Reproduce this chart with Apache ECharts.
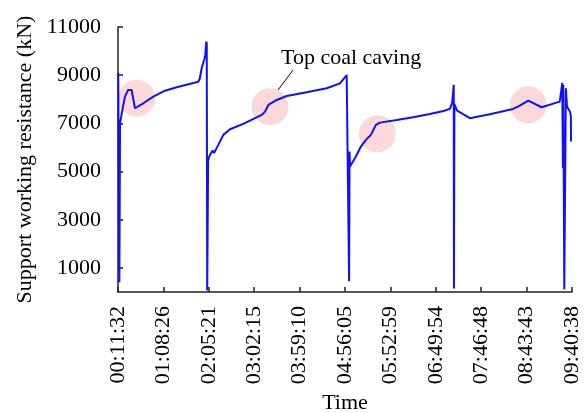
<!DOCTYPE html>
<html>
<head>
<meta charset="utf-8">
<script src="https://cdn.jsdelivr.net/npm/echarts@6/dist/echarts.min.js"></script>
<style>
html,body{margin:0;padding:0;background:#fff;}
#chart{width:584px;height:413px;}
</style>
</head>
<body>
<div id="chart"></div>
<script>
// Time tick labels (x value = index of tick label interval)
var timeLabels = ['00:11:32','01:08:26','02:05:21','03:02:15','03:59:10','04:56:05','05:52:59','06:49:54','07:46:48','08:43:43','09:40:38'];
var yTickValues = [1000, 3000, 5000, 7000, 9000, 11000];

// Support working resistance (kN) vs time position (in tick-interval units)
var timePos = [
  0.005, 0.03, 0.045, 0.10, 0.154, 0.22, 0.264, 0.30, 0.374, 0.557, 0.778, 1.035, 1.293, 1.769, 1.80, 1.844, 1.90, 1.92, 1.945, 1.955, 1.965,
  1.975, 1.985, 2.026, 2.086, 2.115, 2.152, 2.209, 2.319, 2.467, 2.760, 3.165, 3.238, 3.311, 3.496, 3.716, 4.156, 4.597, 4.890, 5.037, 5.073, 5.09,
  5.10, 5.11, 5.24, 5.35, 5.46, 5.57, 5.68, 5.77, 6.14, 6.50, 6.87, 7.17, 7.31, 7.36, 7.395, 7.40,
  7.41, 7.47, 7.75, 8.19, 8.70, 8.81, 9.037, 9.33, 9.73, 9.773, 9.786, 9.80, 9.808, 9.83, 9.865, 9.89, 9.956, 9.975, 9.978
];
var resistance = [
  9100, 400, 7000, 7600, 8108, 8380, 8414, 8385, 7627, 7834, 8108, 8356, 8497, 8729, 8850, 9300, 9650, 9800, 10400, 10300, 60,
  60, 5487, 5694, 5872, 5764, 5901, 6108, 6522, 6757, 6977, 7350, 7487, 7764, 7971, 8137, 8290, 8456, 8662, 9006, 8965, 447,
  5830, 5210, 5623, 6037, 6315, 6522, 6936, 7031, 7143, 7255, 7391, 7516, 7600, 7850, 8600, 145,
  7800, 7528, 7213, 7379, 7598, 7694, 7942, 7669, 7901, 7971, 8680, 5150, 8600, 100, 8455, 7700, 7487, 7280, 6244
];

// Highlighted events (top coal caving)
var cavingPos = [0.412, 3.348, 5.711, 9.037];
var cavingVal = [8042, 7694, 6563, 7764];

var lineData = timePos.map(function (t, i) { return [t, resistance[i]]; });
var circleData = cavingPos.map(function (t, i) { return [t, cavingVal[i]]; });

var FONT = "'Liberation Serif','Times New Roman',serif";
var chart = echarts.init(document.getElementById('chart'), null, {renderer: 'canvas'});
chart.setOption({
  animation: false,
  backgroundColor: '#fff',
  grid: {left: 118, right: 12, top: 27, bottom: 121, containLabel: false, outerBoundsMode: 'none'},
  xAxis: {
    type: 'value', min: 0, max: 10, interval: 1,
    name: 'Time', nameLocation: 'middle', nameGap: 99,
    nameTextStyle: {fontFamily: FONT, fontSize: 22, color: '#000'},
    axisLine: {show: true, onZero: false, lineStyle: {color: '#222', width: 1.5}},
    axisTick: {show: true, inside: true, length: 5, lineStyle: {color: '#222', width: 1.5}},
    splitLine: {show: false},
    axisLabel: {
      rotate: 90, margin: 14, fontFamily: FONT, fontSize: 22, color: '#000',
      showMinLabel: true, showMaxLabel: true, hideOverlap: false,
      formatter: function (v) { return timeLabels[Math.round(v)] || ''; }
    }
  },
  yAxis: {
    type: 'value', min: 0, max: 11000,
    name: 'Support working resistance (kN)', nameLocation: 'middle', nameGap: 82,
    nameTextStyle: {fontFamily: FONT, fontSize: 22, color: '#000'},
    axisLine: {show: true, lineStyle: {color: '#222', width: 1.5}},
    axisTick: {show: true, inside: true, length: 5, customValues: yTickValues, lineStyle: {color: '#222', width: 1.5}},
    splitLine: {show: false},
    axisLabel: {margin: 17, fontFamily: FONT, fontSize: 22, color: '#000', customValues: yTickValues,
      formatter: function (v) { return String(v); }}
  },
  series: [
    {
      type: 'scatter', data: circleData, symbol: 'circle', symbolSize: 37, z: 1,
      itemStyle: {color: '#fad0d0'}, silent: true
    },
    {
      type: 'line', data: lineData, showSymbol: false, z: 3,
      lineStyle: {color: '#1010ff', width: 2}, sampling: null
    }
  ],
  graphic: [
    {type: 'text', left: 281, top: 47, z: 10,
      style: {text: 'Top coal caving', font: "22px 'Liberation Serif','Times New Roman',serif", fill: '#000'}},
    {type: 'line', z: 10, shape: {x1: 293, y1: 70, x2: 278, y2: 90}, style: {stroke: '#000', lineWidth: 1}}
  ]
});
</script>
</body>
</html>
